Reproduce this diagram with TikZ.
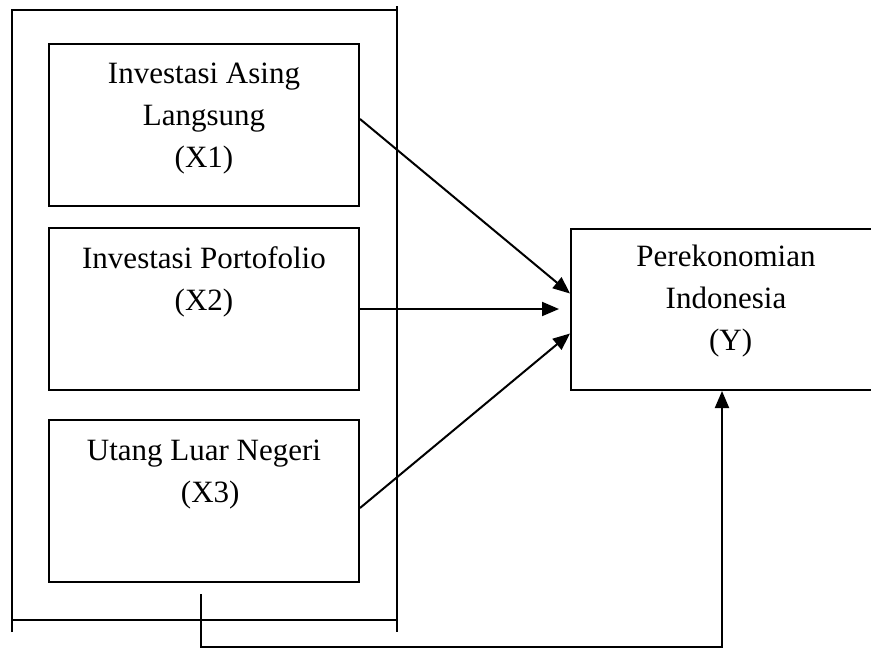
\documentclass[tikz,border=0pt]{standalone}
\usepackage{fontspec}
\setmainfont{Liberation Serif}
\usetikzlibrary{arrows.meta,positioning}

\begin{document}
\begin{tikzpicture}[x=1pt, y=-1pt, >={Triangle[length=17pt,width=14pt]}, line width=2pt,
    box/.style={draw, rectangle, minimum width=310pt, minimum height=162pt, inner sep=0pt},
    lbl/.style={align=center, font=\fontsize{31}{42}\selectfont, inner sep=0pt, anchor=base}]
        \useasboundingbox (0,0) rectangle (871,648);
        % Frame round the independent variables
        \draw (12,632) -- (12,10) -- (397,10);
        \draw (397,6) -- (397,632);
        \draw (12,620) -- (397,620);
        % Variable boxes
        \node[box] (x1) at (204,125) {};
        \node[box] (x2) at (204,309) {};
        \node[box] (x3) at (204,501) {};
        \node[box, minimum height=161pt] (y) at (726,309.5) {};
        % Labels (anchored at the baseline of the last line)
        \node[lbl] (x1t) at (204,167) {Investasi Asing\\Langsung\\(X1)};
        \node[lbl] (x2t) at (204,310) {Investasi Portofolio\\(X2)};
        \node[lbl] (x3t) at (204,502) {Utang Luar Negeri\\\hspace{0.4em}(X3)};
        \node[lbl] (yt) at (726,350) {Perekonomian\\Indonesia\\\hspace{0.3em}(Y)};
        % Partial effects
        \draw[->] ([yshift=6pt]x1.east) -- ([yshift=16pt]y.west);
        \draw[->] (x2.east) -- ([xshift=-11pt]y.west |- x2.east);
        \draw[->] ([yshift=-7pt]x3.east) -- ([yshift=-24pt]y.west);
        % Joint effect
        \coordinate (fa) at (201,594);
        \coordinate (fb) at (201,647);
        \draw[->] (fa) -- (fb) -| ([xshift=-4pt]y.south);
\end{tikzpicture}
\end{document}
